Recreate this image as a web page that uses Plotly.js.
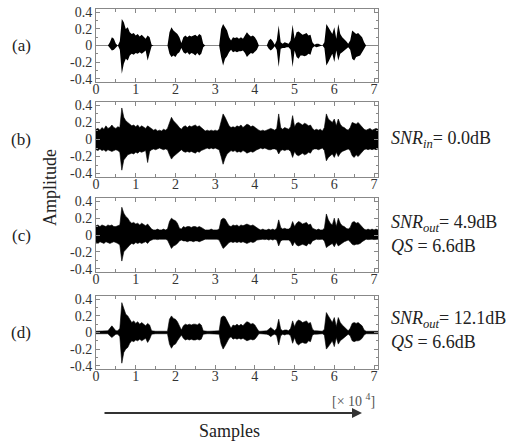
<!DOCTYPE html>
<html><head><meta charset="utf-8">
<script src="https://cdn.plot.ly/plotly-3.0.1.min.js"></script>
<style>html,body{margin:0;padding:0;background:#fff}#chart{width:513px;height:444px}</style>
</head><body><div id="chart"></div>
<script>
// readings every 0.05 (x 10^4 samples), from 0 to 7.1
const xStep = 0.05;

const aUpper = [0,0,0,0,0,0,0,0.04,0.10,0.08,
 0.02,0,0.05,0.32,0.28,0.20,0.22,0.16,0.14,0.15,
 0.12,0.14,0.11,0.13,0.10,0.08,0.12,0.10,0.01,0,
 0,0,0,0,0,0,0,0.16,0.22,0.18,
 0.16,0.14,0.10,0.03,0.10,0.12,0.10,0.12,0.11,0.12,
 0.13,0.11,0.14,0.12,0.02,0,0,0,0,0,
 0,0,0,0.20,0.26,0.22,0.18,0.10,0.06,0.10,
 0.09,0.10,0.08,0.10,0.08,0.12,0.16,0.13,0.11,0.12,
 0.10,0.06,0,0,0,0,0,0.06,0.08,0.05,
 0.01,0.06,0.24,0.04,0.02,0.04,0.03,0.02,0.06,0.25,
 0.08,0.16,0.17,0.15,0.13,0.14,0.15,0.12,0.13,0.04,
 0.01,0.02,0.02,0.01,0,0.04,0.26,0.22,0.18,0.14,
 0.22,0.08,0.26,0.14,0.10,0.08,0.05,0.02,0.06,0.18,
 0.16,0.14,0.15,0.12,0.10,0.04,0,0,0,0,
 0,0,0];
const aLower = [0,0,0,0,0,0,0,-0.03,-0.06,-0.05,
 -0.02,0,-0.05,-0.34,-0.22,-0.16,-0.18,-0.12,-0.10,-0.11,
 -0.09,-0.10,-0.08,-0.10,-0.08,-0.06,-0.18,-0.08,-0.01,0,
 0,0,0,0,0,0,0,-0.10,-0.14,-0.12,
 -0.14,-0.10,-0.08,-0.03,-0.08,-0.10,-0.08,-0.11,-0.09,-0.10,
 -0.12,-0.09,-0.12,-0.10,-0.02,0,0,0,0,0,
 0,0,0,-0.14,-0.24,-0.16,-0.13,-0.08,-0.05,-0.08,
 -0.07,-0.08,-0.07,-0.07,-0.06,-0.09,-0.14,-0.11,-0.09,-0.10,
 -0.08,-0.05,0,0,0,0,0,-0.04,-0.06,-0.04,
 -0.01,-0.05,-0.26,-0.04,-0.03,-0.03,-0.02,-0.02,-0.05,-0.26,
 -0.06,-0.14,-0.16,-0.12,-0.12,-0.13,-0.12,-0.10,-0.11,-0.03,
 -0.01,-0.02,-0.015,-0.01,0,-0.03,-0.24,-0.20,-0.15,-0.10,
 -0.20,-0.06,-0.18,-0.10,-0.08,-0.06,-0.04,-0.02,-0.05,-0.16,
 -0.18,-0.14,-0.13,-0.12,-0.08,-0.03,0,0,0,0,
 0,0,0];

const bUpper = [0.12,0.13,0.11,0.14,0.12,0.16,0.13,0.14,0.17,0.14,
 0.13,0.15,0.14,0.37,0.26,0.22,0.20,0.18,0.16,0.17,
 0.15,0.17,0.14,0.16,0.14,0.13,0.16,0.14,0.12,0.11,
 0.12,0.10,0.11,0.10,0.12,0.11,0.13,0.20,0.26,0.22,
 0.20,0.17,0.14,0.12,0.15,0.16,0.14,0.16,0.15,0.16,
 0.17,0.15,0.16,0.14,0.12,0.10,0.11,0.10,0.11,0.10,
 0.11,0.10,0.12,0.22,0.30,0.26,0.20,0.16,0.14,0.15,
 0.14,0.16,0.15,0.17,0.14,0.16,0.18,0.17,0.15,0.16,
 0.14,0.12,0.11,0.10,0.11,0.10,0.11,0.12,0.13,0.12,
 0.11,0.13,0.30,0.14,0.12,0.14,0.13,0.12,0.15,0.28,
 0.15,0.19,0.20,0.18,0.17,0.19,0.18,0.16,0.17,0.13,
 0.11,0.12,0.11,0.12,0.10,0.14,0.30,0.24,0.22,0.20,
 0.24,0.16,0.24,0.18,0.15,0.14,0.12,0.11,0.14,0.20,
 0.19,0.18,0.20,0.17,0.15,0.12,0.11,0.12,0.13,0.11,
 0.12,0.13,0.12];
const bLower = [-0.12,-0.13,-0.11,-0.13,-0.12,-0.14,-0.12,-0.13,-0.14,-0.13,
 -0.12,-0.13,-0.15,-0.36,-0.24,-0.21,-0.18,-0.17,-0.16,-0.17,
 -0.15,-0.16,-0.14,-0.15,-0.14,-0.13,-0.27,-0.14,-0.12,-0.11,
 -0.12,-0.11,-0.10,-0.11,-0.12,-0.11,-0.12,-0.18,-0.23,-0.20,
 -0.18,-0.16,-0.14,-0.12,-0.14,-0.15,-0.14,-0.15,-0.14,-0.15,
 -0.16,-0.14,-0.15,-0.13,-0.12,-0.11,-0.10,-0.11,-0.10,-0.11,
 -0.10,-0.11,-0.12,-0.20,-0.29,-0.22,-0.17,-0.15,-0.13,-0.14,
 -0.13,-0.15,-0.14,-0.15,-0.13,-0.14,-0.16,-0.15,-0.14,-0.15,
 -0.13,-0.12,-0.11,-0.10,-0.11,-0.10,-0.11,-0.12,-0.12,-0.11,
 -0.11,-0.12,-0.17,-0.13,-0.12,-0.13,-0.12,-0.12,-0.14,-0.21,
 -0.14,-0.18,-0.19,-0.17,-0.16,-0.18,-0.17,-0.15,-0.16,-0.12,
 -0.11,-0.11,-0.12,-0.11,-0.10,-0.13,-0.25,-0.21,-0.19,-0.17,
 -0.21,-0.15,-0.20,-0.16,-0.14,-0.13,-0.12,-0.11,-0.13,-0.19,
 -0.21,-0.18,-0.20,-0.17,-0.14,-0.12,-0.11,-0.12,-0.11,-0.12,
 -0.11,-0.12,-0.11];

const cUpper = [0.11,0.12,0.10,0.12,0.11,0.10,0.12,0.11,0.12,0.10,
 0.10,0.11,0.12,0.33,0.26,0.22,0.20,0.16,0.14,0.15,
 0.13,0.14,0.12,0.14,0.12,0.11,0.13,0.10,0.07,0.06,
 0.06,0.07,0.06,0.06,0.07,0.06,0.07,0.16,0.20,0.18,
 0.17,0.14,0.08,0.07,0.10,0.09,0.10,0.10,0.09,0.10,
 0.10,0.09,0.10,0.09,0.07,0.06,0.06,0.06,0.07,0.06,
 0.06,0.06,0.07,0.18,0.20,0.19,0.15,0.11,0.10,0.12,
 0.11,0.12,0.10,0.12,0.11,0.12,0.13,0.12,0.11,0.12,
 0.10,0.08,0.07,0.06,0.07,0.06,0.06,0.07,0.06,0.07,
 0.06,0.08,0.18,0.09,0.07,0.08,0.07,0.07,0.09,0.16,
 0.10,0.14,0.16,0.15,0.13,0.14,0.15,0.12,0.13,0.08,
 0.07,0.06,0.07,0.06,0.06,0.08,0.25,0.18,0.14,0.12,
 0.20,0.10,0.20,0.14,0.11,0.10,0.08,0.07,0.09,0.15,
 0.16,0.14,0.15,0.12,0.10,0.07,0.06,0.07,0.06,0.07,
 0.06,0.07,0.06];
const cLower = [-0.09,-0.10,-0.08,-0.09,-0.10,-0.08,-0.09,-0.10,-0.09,-0.08,
 -0.09,-0.10,-0.12,-0.31,-0.20,-0.17,-0.15,-0.12,-0.10,-0.11,
 -0.09,-0.10,-0.09,-0.10,-0.09,-0.08,-0.10,-0.07,-0.06,-0.05,
 -0.05,-0.055,-0.05,-0.05,-0.055,-0.05,-0.06,-0.12,-0.16,-0.13,
 -0.12,-0.10,-0.07,-0.06,-0.07,-0.07,-0.08,-0.07,-0.07,-0.08,
 -0.07,-0.07,-0.08,-0.07,-0.06,-0.05,-0.05,-0.05,-0.055,-0.05,
 -0.05,-0.05,-0.06,-0.12,-0.16,-0.14,-0.11,-0.09,-0.08,-0.09,
 -0.08,-0.09,-0.08,-0.09,-0.08,-0.09,-0.10,-0.09,-0.08,-0.09,
 -0.08,-0.06,-0.055,-0.05,-0.05,-0.055,-0.05,-0.06,-0.05,-0.06,
 -0.05,-0.06,-0.13,-0.07,-0.06,-0.06,-0.06,-0.06,-0.08,-0.13,
 -0.08,-0.12,-0.13,-0.12,-0.11,-0.12,-0.13,-0.10,-0.11,-0.07,
 -0.06,-0.05,-0.055,-0.05,-0.05,-0.07,-0.15,-0.13,-0.11,-0.10,
 -0.14,-0.09,-0.13,-0.11,-0.09,-0.08,-0.07,-0.06,-0.08,-0.11,
 -0.12,-0.11,-0.11,-0.10,-0.08,-0.06,-0.05,-0.055,-0.05,-0.05,
 -0.055,-0.05,-0.05];

const dUpper = [0.015,0.015,0.015,0.015,0.015,0.015,0.02,0.05,0.08,0.05,
 0.02,0.02,0.05,0.36,0.28,0.22,0.20,0.16,0.12,0.14,
 0.11,0.13,0.10,0.12,0.10,0.08,0.11,0.09,0.02,0.015,
 0.015,0.015,0.015,0.015,0.015,0.015,0.015,0.16,0.20,0.17,
 0.16,0.13,0.08,0.03,0.08,0.10,0.09,0.10,0.09,0.10,
 0.10,0.09,0.11,0.09,0.02,0.015,0.015,0.015,0.015,0.015,
 0.015,0.015,0.02,0.18,0.20,0.19,0.14,0.08,0.05,0.09,
 0.08,0.10,0.08,0.10,0.08,0.11,0.13,0.12,0.10,0.11,
 0.09,0.05,0.015,0.015,0.015,0.015,0.02,0.04,0.06,0.04,
 0.02,0.05,0.16,0.04,0.02,0.03,0.03,0.02,0.05,0.14,
 0.07,0.13,0.15,0.14,0.12,0.13,0.14,0.11,0.12,0.04,
 0.02,0.02,0.02,0.015,0.015,0.04,0.24,0.20,0.15,0.12,
 0.18,0.07,0.18,0.12,0.09,0.07,0.04,0.02,0.05,0.11,
 0.12,0.11,0.12,0.10,0.08,0.03,0.015,0.015,0.015,0.015,
 0.015,0.015,0.015];
const dLower = [-0.015,-0.015,-0.015,-0.015,-0.015,-0.015,-0.015,-0.04,-0.06,-0.04,
 -0.02,-0.02,-0.05,-0.37,-0.24,-0.20,-0.18,-0.13,-0.10,-0.11,
 -0.09,-0.10,-0.08,-0.10,-0.08,-0.07,-0.12,-0.08,-0.02,-0.015,
 -0.015,-0.015,-0.015,-0.015,-0.015,-0.015,-0.015,-0.14,-0.19,-0.15,
 -0.14,-0.10,-0.07,-0.03,-0.07,-0.09,-0.08,-0.09,-0.08,-0.09,
 -0.09,-0.08,-0.09,-0.08,-0.02,-0.015,-0.015,-0.015,-0.015,-0.015,
 -0.015,-0.015,-0.02,-0.14,-0.20,-0.16,-0.12,-0.07,-0.05,-0.08,
 -0.07,-0.08,-0.07,-0.08,-0.07,-0.09,-0.10,-0.09,-0.08,-0.09,
 -0.08,-0.05,-0.015,-0.015,-0.015,-0.015,-0.02,-0.03,-0.05,-0.03,
 -0.02,-0.04,-0.15,-0.04,-0.02,-0.03,-0.02,-0.02,-0.04,-0.13,
 -0.06,-0.13,-0.15,-0.13,-0.12,-0.13,-0.13,-0.10,-0.11,-0.03,
 -0.02,-0.02,-0.02,-0.015,-0.015,-0.03,-0.20,-0.17,-0.13,-0.10,
 -0.17,-0.06,-0.14,-0.10,-0.08,-0.06,-0.04,-0.02,-0.04,-0.10,
 -0.11,-0.10,-0.10,-0.09,-0.07,-0.03,-0.015,-0.015,-0.015,-0.015,
 -0.015,-0.015,-0.015];

const panelLabels = ['(a)', '(b)', '(c)', '(d)'];
const yTickVals = [-0.4, -0.2, 0, 0.2, 0.4];
const yTickText = ['-0.4', '-0.2', '0', '0.2', '0.4'];
const xTickVals = [0, 1, 2, 3, 4, 5, 6, 7];
const xTickText = ['0', '1', '2', '3', '4', '5', '6', '7'];
const sideNotes = [
  [],
  ['<i>SNR<sub>in</sub></i>= 0.0dB'],
  ['<i>SNR<sub>out</sub></i>= 4.9dB', '<i>QS</i> = 6.6dB'],
  ['<i>SNR<sub>out</sub></i>= 12.1dB', '<i>QS</i> = 6.6dB']
];

const W = 513, H = 444;
const FONT = 'Liberation Serif, Times New Roman, serif';
const panels = [[aUpper, aLower], [bUpper, bLower], [cUpper, cLower], [dUpper, dLower]];
// panel boxes in pixels (top, bottom)
const boxes = [[9, 82], [102, 177], [198, 272], [296, 369]];
const xLeft = 96, xRight = 378;
const py = p => 1 - p / H;
const px = p => p / W;

const data = [];
const layout = {
  width: W, height: H,
  margin: {l: 0, r: 0, t: 0, b: 0},
  paper_bgcolor: '#fff', plot_bgcolor: '#fff',
  showlegend: false,
  font: {family: FONT, size: 13, color: '#222'},
  annotations: [], shapes: []
};

panels.forEach((pr, k) => {
  const [up, lo] = pr;
  const xs = up.map((_, i) => +(i * xStep).toFixed(2));
  const sfx = k === 0 ? '' : String(k + 1);
  const xa = 'x' + sfx, ya = 'y' + sfx;
  const lw = k === 0 ? 0 : 0.6;
  data.push({x: xs, y: lo, xaxis: xa, yaxis: ya, type: 'scatter', mode: 'lines',
    line: {color: '#000', width: lw}, hoverinfo: 'skip'});
  data.push({x: xs, y: up, xaxis: xa, yaxis: ya, type: 'scatter', mode: 'lines',
    fill: 'tonexty', fillcolor: '#000', line: {color: '#000', width: lw}, hoverinfo: 'skip'});
  const [tp, bt] = boxes[k];
  layout['xaxis' + sfx] = {
    domain: [px(xLeft), px(xRight)], anchor: ya, range: [0, 7.1],
    tickvals: xTickVals, ticktext: xTickText, ticks: 'inside', ticklen: 4, tickcolor: '#888',
    minor: {dtick: 0.5, tick0: 0, ticks: 'inside', ticklen: 3, tickcolor: '#888'},
    showline: true, linecolor: '#888', linewidth: 1, mirror: 'allticks',
    showgrid: false, zeroline: false, ticklabelstandoff: -6,
    tickfont: {family: FONT, size: 14, color: '#333'}
  };
  layout['yaxis' + sfx] = {
    domain: [py(bt), py(tp)], anchor: xa, range: [-0.44, 0.44],
    tickvals: yTickVals, ticktext: yTickText, ticks: 'inside', ticklen: 4, tickcolor: '#888',
    minor: {dtick: 0.1, tick0: 0, ticks: 'inside', ticklen: 2, tickcolor: '#888'},
    showline: true, linecolor: '#888', linewidth: 1, mirror: 'allticks',
    showgrid: false,
    zeroline: k === 0, zerolinecolor: '#888', zerolinewidth: 1.5,
    tickfont: {family: FONT, size: 14, color: '#333'}
  };
  const mid = (tp + bt) / 2;
  layout.annotations.push({xref: 'paper', yref: 'paper', x: px(21), y: py(mid), text: panelLabels[k],
    showarrow: false, xanchor: 'center', yanchor: 'middle', font: {family: FONT, size: 17, color: '#222'}});
  const notes = sideNotes[k];
  notes.forEach((t, j) => {
    const yy = notes.length === 1 ? mid : (k === 2 ? 223 : 319) + j * 23;
    layout.annotations.push({xref: 'paper', yref: 'paper', x: px(389), y: py(yy), text: t,
      showarrow: false, xanchor: 'left', yanchor: 'middle', font: {family: FONT, size: 18, color: '#222'}});
  });
});

layout.annotations.push({xref: 'paper', yref: 'paper', x: px(50), y: py(188), text: 'Amplitude',
  textangle: -90, showarrow: false, xanchor: 'center', yanchor: 'middle',
  font: {family: FONT, size: 18, color: '#222'}});
layout.annotations.push({xref: 'paper', yref: 'paper', x: px(377), y: py(400), text: '[× 10 <sup>4</sup>]',
  showarrow: false, xanchor: 'right', yanchor: 'middle', font: {family: FONT, size: 14, color: '#555'}});
layout.annotations.push({xref: 'paper', yref: 'paper', x: px(362), y: py(413), ax: -259, ay: 0, text: '',
  showarrow: true, arrowhead: 2, arrowsize: 1, arrowwidth: 2, arrowcolor: '#333'});
layout.annotations.push({xref: 'paper', yref: 'paper', x: px(229), y: py(431), text: 'Samples',
  showarrow: false, xanchor: 'center', yanchor: 'middle', font: {family: FONT, size: 18, color: '#222'}});

Plotly.newPlot('chart', data, layout, {staticPlot: true, displayModeBar: false});
</script>
</body></html>
